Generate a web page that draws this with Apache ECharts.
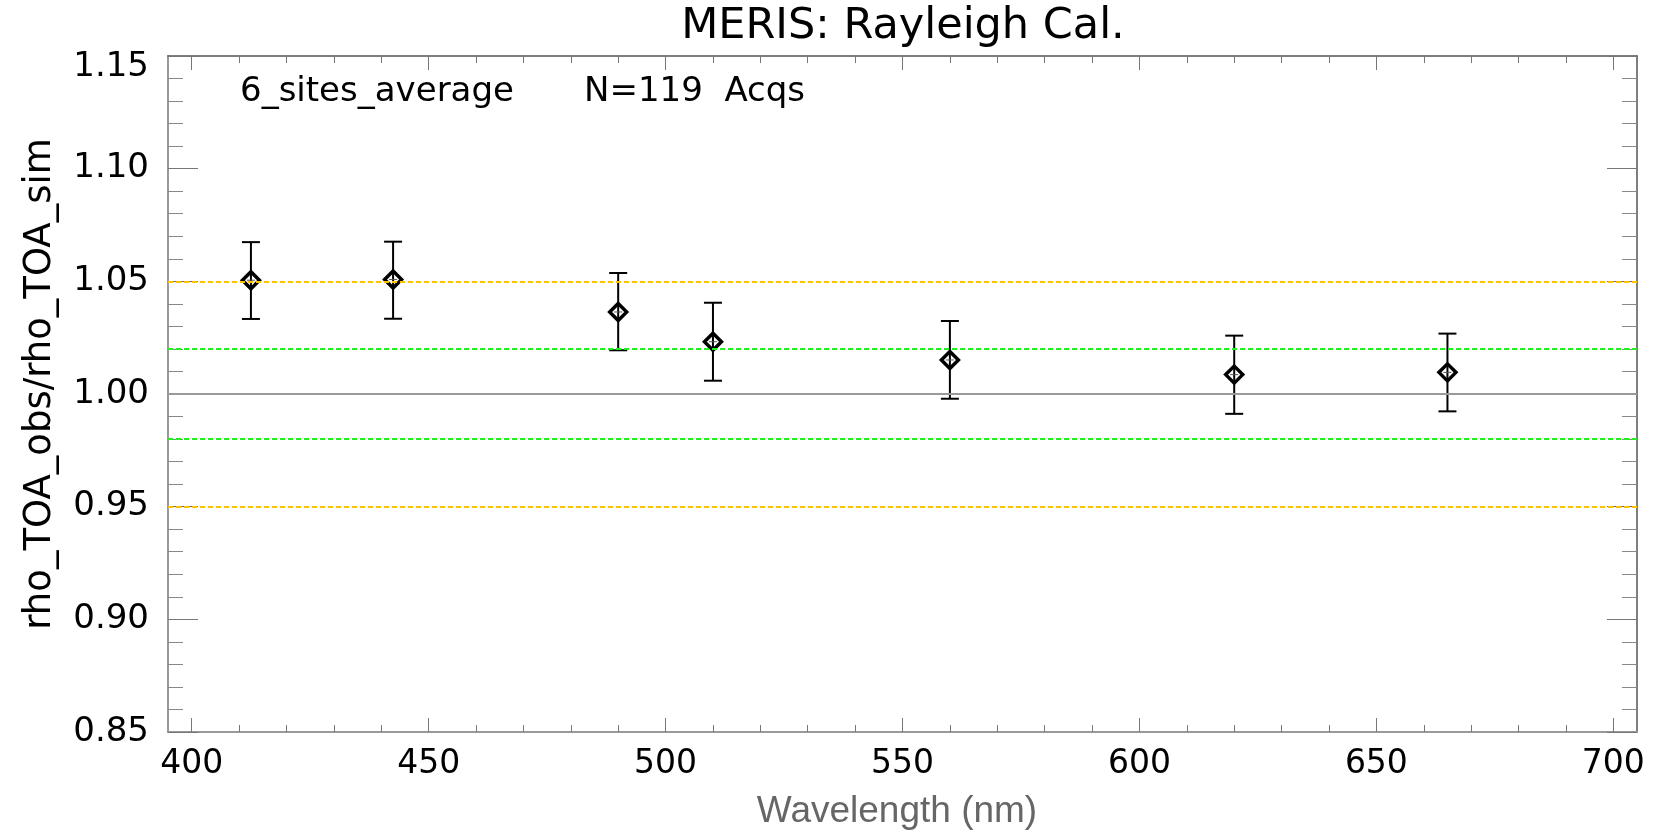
<!DOCTYPE html>
<html>
<head>
<meta charset="utf-8">
<script src="https://cdn.jsdelivr.net/npm/echarts@6/dist/echarts.min.js"></script>
<style>
    html, body, #main {
        width: 100%;
        height: 100%;
        margin: 0;
        background: #fff;
    }
</style>
</head>
<body>
<div id="main"></div>
<script>
    // MERIS band centres (nm) and the observed/simulated ratio with its error bar
    var wavelengths = [412.5, 442.5, 490, 510, 560, 620, 665];
    var ratio = [1.0505, 1.0508, 1.0364, 1.0232, 1.0151, 1.0086, 1.0096];
    var errLow = [1.0333, 1.0334, 1.0194, 1.0059, 0.9979, 0.9912, 0.9923];
    var errHigh = [1.0674, 1.0676, 1.0537, 1.0405, 1.0324, 1.0259, 1.0268];

    var xMajorTicks = [400, 450, 500, 550, 600, 650, 700];
    var refOrange = [1.05, 0.95];
    var refGreen = [1.02, 0.98];
    var refUnity = 1.00;

    var xMinorTicks = [];
    for (var t = 410; t < 700; t += 10) {
        if (t % 50 !== 0) xMinorTicks.push(t);
    }

    var hershey = "'DejaVu Sans', sans-serif";
    var chart = echarts.init(document.getElementById('main'));

    function xAxisOf(pos, ticks, len, withLine, withLabel) {
        return {
            type: 'value',
            position: pos,
            min: 395,
            max: 705,
            axisLine: {
                show: withLine,
                lineStyle: pos === 'bottom' ? {color: '#999', width: 2} : {color: '#555', width: 1.5}
            },
            axisTick: {
                show: true,
                inside: true,
                length: len,
                customValues: ticks,
                lineStyle: {color: '#777', width: 1}
            },
            axisLabel: {
                show: withLabel,
                customValues: ticks,
                margin: 16,
                color: '#000',
                fontSize: 33,
                fontFamily: hershey
            },
            splitLine: {show: false}
        };
    }

    function yAxisOf(pos, withLabel) {
        return {
            type: 'value',
            position: pos,
            min: 0.85,
            max: 1.15,
            interval: 0.05,
            axisLine: {
                show: true,
                lineStyle: pos === 'left' ? {color: '#999', width: 2} : {color: '#555', width: 1.5}
            },
            axisTick: {
                show: true,
                inside: true,
                length: 30,
                lineStyle: {color: '#777', width: 1}
            },
            minorTick: {
                show: true,
                splitNumber: 5,
                length: 15,
                lineStyle: {color: '#888', width: 1}
            },
            axisLabel: {
                show: withLabel,
                margin: 19,
                color: '#000',
                fontSize: 34,
                fontFamily: hershey,
                // the top label sits a little below its tick, as in the original plot
                formatter: function (v) {
                    return v > 1.149 ? '{top|' + v.toFixed(2) + '}' : v.toFixed(2);
                },
                rich: {
                    top: {fontSize: 34, fontFamily: hershey, color: '#000', padding: [22, 0, 0, 0]}
                }
            },
            splitLine: {show: false},
            minorSplitLine: {show: false}
        };
    }

    function refLine(v, color, dashed, width) {
        return {
            yAxis: v,
            lineStyle: {color: color, width: width, type: dashed ? [5, 3] : 'solid'}
        };
    }

    var refLines = [refLine(refUnity, '#999', false, 2)];
    refGreen.forEach(function (v) { refLines.push(refLine(v, '#22ee22', true, 2)); });
    refOrange.forEach(function (v) { refLines.push(refLine(v, '#ffc200', true, 2)); });

    var barData = wavelengths.map(function (w, i) {
        return [w, errLow[i], errHigh[i], ratio[i]];
    });
    var pointData = wavelengths.map(function (w, i) {
        return [w, ratio[i]];
    });

    chart.setOption({
        animation: false,
        backgroundColor: '#fff',
        grid: {left: 168, right: 34, top: 56, bottom: 100},
        xAxis: [
            xAxisOf('bottom', xMajorTicks, 14, true, true),
            xAxisOf('bottom', xMinorTicks, 7, false, false),
            xAxisOf('top', xMajorTicks, 14, true, false),
            xAxisOf('top', xMinorTicks, 7, false, false)
        ],
        yAxis: [
            yAxisOf('left', true),
            yAxisOf('right', false)
        ],
        graphic: [
            {
                type: 'text', x: 903, y: 27,
                style: {text: 'MERIS: Rayleigh Cal.', fill: '#000', font: '43px ' + hershey,
                    align: 'center', verticalAlign: 'middle'}
            },
            {
                type: 'text', x: 240, y: 92,
                style: {text: '6_sites_average', fill: '#000', font: '34px ' + hershey,
                    align: 'left', verticalAlign: 'middle'}
            },
            {
                type: 'text', x: 584, y: 92,
                style: {text: 'N=119  Acqs', fill: '#000', font: '34px ' + hershey,
                    align: 'left', verticalAlign: 'middle'}
            },
            {
                type: 'text', x: 40, y: 384, rotation: Math.PI / 2,
                style: {text: 'rho_TOA_obs/rho_TOA_sim', fill: '#000', font: '37px ' + hershey,
                    align: 'center', verticalAlign: 'middle'}
            },
            {
                type: 'text', x: 897, y: 812,
                style: {text: 'Wavelength (nm)', fill: '#666', font: '37px "Liberation Sans", Arial, sans-serif',
                    align: 'center', verticalAlign: 'middle'}
            }
        ],
        series: [
            {
                name: 'reference',
                type: 'line',
                data: [],
                z: 1,
                markLine: {
                    silent: true,
                    symbol: ['none', 'none'],
                    label: {show: false},
                    data: refLines
                }
            },
            {
                name: 'error',
                type: 'custom',
                z: 3,
                encode: {x: 0, y: [1, 2, 3]},
                data: barData,
                renderItem: function (params, api) {
                    var x = api.value(0);
                    var lo = api.coord([x, api.value(1)]);
                    var hi = api.coord([x, api.value(2)]);
                    var mid = api.coord([x, api.value(3)]);
                    var cap = 9;
                    var st = {stroke: '#000', lineWidth: 2};
                    return {
                        type: 'group',
                        children: [
                            {type: 'line', shape: {x1: lo[0], y1: lo[1], x2: hi[0], y2: hi[1]}, style: st},
                            {type: 'line', shape: {x1: lo[0] - cap, y1: lo[1], x2: lo[0] + cap, y2: lo[1]}, style: st},
                            {type: 'line', shape: {x1: hi[0] - cap, y1: hi[1], x2: hi[0] + cap, y2: hi[1]}, style: st},
                            {type: 'line', shape: {x1: mid[0] - 4, y1: mid[1], x2: mid[0] + 4, y2: mid[1]},
                                style: {stroke: '#555', lineWidth: 1}}
                        ]
                    };
                }
            },
            {
                name: 'ratio',
                type: 'scatter',
                z: 4,
                symbol: 'diamond',
                symbolSize: 17,
                itemStyle: {color: 'rgba(255,255,255,0)', borderColor: '#000', borderWidth: 3.5, opacity: 1},
                data: pointData
            }
        ]
    });
</script>
</body>
</html>
